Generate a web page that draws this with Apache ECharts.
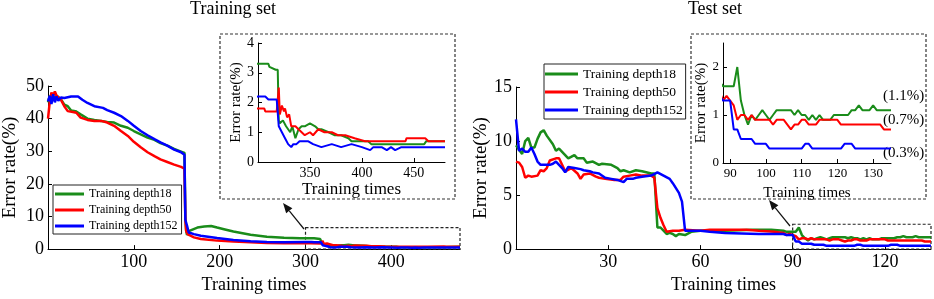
<!DOCTYPE html>
<html>
<head>
<meta charset="utf-8">
<script src="https://cdn.jsdelivr.net/npm/echarts@6/dist/echarts.min.js"></script>
<style>
html, body { margin: 0; padding: 0; background: #fff; }
#chart { width: 934px; height: 299px; }
</style>
</head>
<body>
<div id="chart"></div>
<script>
// series names / colours
var names = ['Training depth18', 'Training depth50', 'Training depth152']
var colors = ['#1a8c1a', '#ff0000', '#0000ff']

// ---- Training set: [training times, error rate %] ----
var train18 = [[0, 45], [2, 47], [4, 45.5], [6, 46.8], [8, 45.8], [10, 47], [12, 46.5], [15, 46], [19, 44.3], [23, 43.8],
  [27, 42.5], [32, 42.3], [38, 41.3], [46, 40], [54, 39.6], [62, 39.3], [69, 39], [77, 38.8], [85, 37.8], [93, 37.2],
  [100, 36.2], [108, 35.2], [116, 34.2], [124, 33.5], [131, 32.5], [139, 31.7], [147, 30.7], [155, 29.9], [159, 29.5],
  [160, 10], [161, 5.5], [162, 4.3], [164, 5.5], [166, 6.1], [174, 6.6], [182, 6.9], [190, 7.1], [197, 6.6], [205, 6.1],
  [216, 5.4], [236, 4.4], [255, 3.8], [275, 3.5], [294, 3.3],
  [300, 3.3], [310, 3.3], [311, 3.2], [317, 3.1], [319, 3.1], [320, 1.4], [321, 1.3], [324, 1.4], [327, 1.2], [331, 1.0],
  [333, 1.2], [336, 0.8], [339, 1.1], [342, 1.2], [345, 1.2], [350, 1.3], [355, 1.2], [358, 1.1], [361, 1.1], [368, 1.0],
  [374, 0.9], [380, 0.9], [387, 0.8], [390, 0.7], [406, 0.7], [409, 0.6], [460, 0.6], [462, 0.7], [480, 0.7]]

var train50 = [[0, 40], [2, 45], [4, 48], [6, 47], [8, 48.3], [10, 47], [12, 47.5], [15, 45.8], [19, 43.8], [23, 42.3],
  [29, 42], [33, 41.8], [38, 40.3], [46, 39.6], [54, 39.3], [62, 39.3], [69, 38.8], [77, 37.8], [85, 36.2], [93, 34.7],
  [100, 32.9], [108, 31.2], [116, 29.7], [124, 28.5], [131, 27.5], [139, 26.7], [147, 25.9], [155, 25.2], [159, 24.7],
  [160, 9], [161, 5.5], [163, 4.5], [166, 4.1], [170, 3.6], [178, 3.1], [197, 2.6], [216, 2.3], [236, 2.1], [255, 1.9],
  [275, 1.8],
  [300, 1.8], [306, 1.8], [307, 1.7], [318, 1.7], [320, 2.5], [321, 1.6], [323, 1.9], [325, 1.7], [326, 1.8], [328, 1.5],
  [330, 1.6], [332, 1.2], [336, 1.2], [339, 1.1], [342, 1.0], [345, 0.9], [350, 1.0], [353, 0.9], [358, 1.1], [364, 1.0],
  [371, 1.0], [377, 0.9], [384, 0.9], [393, 0.8], [403, 0.7], [442, 0.7], [443, 0.8], [461, 0.8], [464, 0.7], [465, 0.75],
  [467, 0.7], [480, 0.7]]

var train152 = [[0, 45.3], [2, 47], [4, 44.5], [6, 47.5], [8, 45], [10, 46.8], [12, 45.5], [15, 46.5], [19, 46.3], [27, 46.8],
  [35, 46.8], [40, 45.8], [46, 44.8], [54, 43.8], [64, 43.3], [69, 42.6], [77, 41.8], [85, 40.8], [93, 39.3], [100, 37.8],
  [108, 36.2], [116, 34.9], [124, 33.7], [131, 32.7], [139, 31.7], [147, 30.5], [155, 29.7], [159, 28.9],
  [160, 9], [162, 7.1], [164, 5.1], [170, 4.6], [178, 4.1], [197, 3.4], [216, 2.8], [236, 2.4], [255, 2.2], [275, 2.1],
  [300, 2.2], [307, 2.2], [310, 2.1], [318, 2.1], [320, 1.2], [323, 1.0], [326, 0.8], [329, 0.6], [332, 0.5], [334, 0.6],
  [337, 0.6], [340, 0.7], [344, 0.7], [348, 0.7], [353, 0.6], [361, 0.5], [371, 0.6], [380, 0.5], [390, 0.6], [400, 0.5],
  [408, 0.4], [411, 0.5], [419, 0.5], [424, 0.4], [428, 0.5], [432, 0.4], [438, 0.5], [480, 0.5]]

// ---- Test set, epochs 0..87: [training times, error rate %] ----
var test18Head = [[0, 9.6], [1, 9.2], [2, 8.8], [3, 10.0], [4, 10.3], [5, 9.4], [6, 9.4], [7, 10.2], [8, 10.8], [9, 11.0],
  [10, 10.5], [12, 9.7], [13, 9.1], [14, 9.3], [16, 8.7], [17, 8.4], [19, 8.7], [20, 8.4], [22, 8.4], [23, 8.0], [25, 8.1],
  [27, 7.8], [28, 7.9], [31, 7.8], [33, 7.5], [34, 7.2], [35, 7.3], [37, 7.1], [39, 7.3], [41, 7.2], [44, 7.0], [45, 7.0],
  [46, 2.0], [47, 2.0], [48, 1.7], [49, 1.4], [50, 1.5], [51, 1.4], [52, 1.2], [53, 1.4], [55, 1.3], [57, 1.6], [60, 1.7],
  [68, 1.7], [77, 1.8], [83, 1.8], [87, 1.7]]
var test50Head = [[0, 8.1], [1, 8.0], [2, 7.6], [3, 6.6], [4, 6.8], [5, 6.7], [7, 6.8], [8, 7.3], [9, 7.2], [10, 7.5],
  [11, 8.2], [13, 8.4], [14, 8.4], [15, 7.8], [16, 7.2], [18, 7.5], [20, 7.0], [21, 6.5], [22, 6.9], [24, 7.0], [26, 6.7],
  [27, 6.6], [29, 6.5], [32, 6.4], [34, 6.4], [35, 6.7], [37, 6.8], [39, 6.9], [41, 6.8], [44, 6.8], [45, 6.6],
  [46, 3.8], [47, 2.9], [48, 2.2], [49, 1.6], [51, 1.7], [53, 1.7], [55, 1.8], [60, 1.7], [63, 1.8], [68, 1.8], [75, 1.8],
  [79, 1.7], [84, 1.6], [87, 1.5]]
var test152Head = [[0, 12.0], [1, 9.1], [2, 9.3], [3, 9.0], [4, 9.0], [5, 9.4], [6, 8.8], [7, 8.1], [8, 7.8], [11, 7.8],
  [12, 7.9], [13, 8.1], [15, 7.5], [16, 7.1], [17, 7.6], [19, 7.5], [21, 7.4], [22, 7.3], [24, 7.2], [25, 7.1], [27, 7.0],
  [29, 6.6], [31, 6.5], [33, 6.4], [35, 6.2], [36, 6.5], [38, 6.5], [39, 6.6], [41, 6.7], [44, 6.8], [46, 7.1], [48, 6.8],
  [50, 6.5], [51, 6.1], [53, 5.2], [54, 4.4], [55, 1.7], [57, 1.7], [60, 1.7], [63, 1.6], [68, 1.5], [79, 1.4], [87, 1.4]]

// ---- Test set, one value per epoch from 88 to 135 ----
var tailStart = 88
var test18Tail = [1.6, 1.6, 1.6, 1.6, 2.0, 1.3, 1.0, 0.8, 1.0, 0.9, 1.0, 1.1, 1.0, 0.9, 1.0, 1.1, 1.1, 1.1, 1.1, 1.1,
  1.0, 1.1, 1.0, 1.0, 0.9, 1.0, 0.9, 1.0, 0.9, 0.9, 0.9, 1.0, 1.0, 1.0, 1.0, 1.0, 1.1, 1.1, 1.2, 1.1, 1.1, 1.1, 1.2, 1.1,
  1.1, 1.1, 1.1, 1.1]
var test50Tail = [1.3, 1.4, 1.3, 1.2, 0.9, 1.0, 1.0, 0.9, 1.0, 0.9, 0.9, 0.9, 0.9, 0.9, 0.8, 0.9, 0.9, 0.9, 0.8, 0.7,
  0.8, 0.8, 0.9, 0.9, 0.8, 0.8, 0.8, 0.9, 0.9, 0.9, 0.9, 0.9, 0.9, 0.8, 0.8, 0.8, 0.8, 0.8, 0.8, 0.8, 0.8, 0.8, 0.8, 0.8,
  0.8, 0.7, 0.7, 0.7]
var test152Tail = [1.3, 1.3, 1.3, 0.7, 0.7, 0.5, 0.5, 0.5, 0.5, 0.4, 0.4, 0.4, 0.4, 0.3, 0.3, 0.3, 0.3, 0.3, 0.3, 0.3,
  0.3, 0.3, 0.3, 0.4, 0.4, 0.3, 0.3, 0.3, 0.3, 0.3, 0.3, 0.3, 0.3, 0.3, 0.4, 0.4, 0.4, 0.3, 0.3, 0.3, 0.3, 0.3, 0.3, 0.3,
  0.3, 0.3, 0.3, 0.3]
var finalLabels = ['(1.1%)', '(0.7%)', '(0.3%)']

function withTail(head, tail) {
  return head.concat(tail.map(function(v, k) { return [tailStart + k, v] }))
}
var trainData = [train18, train50, train152]
var testData = [withTail(test18Head, test18Tail), withTail(test50Head, test50Tail), withTail(test152Head, test152Tail)]

var font = 'Liberation Serif'
var black = '#000'

function xAxisCfg(grid, min, max, ticks, size, name, nameSize, nameGap) {
  return {
    type: 'value', gridIndex: grid, min: min, max: max,
    axisLine: { lineStyle: { color: black, width: 1 }},
    axisTick: { show: true, inside: true, length: 4, customValues: ticks, lineStyle: { color: black }},
    axisLabel: { customValues: ticks, color: black, fontFamily: font, fontSize: size, margin: 4 },
    splitLine: { show: false },
    name: name, nameLocation: 'middle', nameGap: nameGap,
    nameTextStyle: { color: black, fontFamily: font, fontSize: nameSize }
  }
}
function yAxisCfg(grid, min, max, ticks, size, name, nameSize, nameGap) {
  return {
    type: 'value', gridIndex: grid, min: min, max: max,
    axisLine: { show: true, lineStyle: { color: black, width: 1 }},
    axisTick: { show: true, inside: true, length: 4, customValues: ticks, lineStyle: { color: black }},
    axisLabel: { customValues: ticks, color: black, fontFamily: font, fontSize: size, margin: 4 },
    splitLine: { show: false },
    name: name, nameLocation: 'middle', nameGap: nameGap,
    nameTextStyle: { color: black, fontFamily: font, fontSize: nameSize }
  }
}

function line(i, data, axis, width) {
  return {
    type: 'line', name: names[i], xAxisIndex: axis, yAxisIndex: axis, data: data,
    symbol: 'none', showSymbol: false, clip: true, silent: true, z: 2 + i,
    lineStyle: { color: colors[i], width: width }, itemStyle: { color: colors[i] }
  }
}

var series = []
for (var i = 0; i < 3; i++) {
  series.push(line(i, trainData[i], 0, 2.5))
  series.push(line(i, trainData[i], 1, 2))
  series.push(line(i, testData[i], 2, 2.5))
  series.push(line(i, testData[i], 3, 2))
}
var boxStyle = { color: 'rgba(0,0,0,0)', borderColor: '#222', borderWidth: 1.2, borderType: [3, 2] }
// zoomed regions marked on the main plots
series[0].markArea = { silent: true, label: { show: false }, itemStyle: boxStyle,
  data: [[{ coord: [300, 6.6] }, { coord: [480, 0] }]] }
series[2].markArea = { silent: true, label: { show: false }, itemStyle: boxStyle,
  data: [[{ coord: [90, 2.3] }, { coord: [135, 0] }]] }

function arrow(x1, y1, x2, y2) {
  var dx = x2 - x1
  var dy = y2 - y1
  var l = Math.sqrt(dx * dx + dy * dy)
  var ux = dx / l
  var uy = dy / l
  var bx = x2 - ux * 10
  var by = y2 - uy * 10
  return [
    { type: 'line', shape: { x1: x1, y1: y1, x2: bx, y2: by }, style: { stroke: '#111', lineWidth: 1.2 }},
    { type: 'polygon', shape: { points: [[x2, y2], [bx + uy * 4, by - ux * 4], [bx - uy * 4, by + ux * 4]] }, style: { fill: '#111' }}
  ]
}

var dashed = { fill: 'none', stroke: '#333', lineWidth: 1.2, lineDash: [3, 2] }
var graphics = [
  { type: 'rect', shape: { x: 220, y: 34, width: 235, height: 165 }, style: dashed },
  { type: 'rect', shape: { x: 691, y: 34, width: 235, height: 165 }, style: dashed }
].concat(arrow(304, 229, 283, 203), arrow(790, 226, 769, 200))
var labelY = [96, 120, 153]
for (var k = 0; k < 3; k++) {
  graphics.push({ type: 'text', x: 883, y: labelY[k], style: { text: finalLabels[k], fill: black, font: '15px "' + font + '"', verticalAlign: 'middle' }})
}

function legendData() {
  return names.map(function(n, k) { return { name: n, icon: 'rect', itemStyle: { color: colors[k] }} })
}

var chart = echarts.init(document.getElementById('chart'), null, { renderer: 'canvas' })
chart.setOption({
  animation: false,
  backgroundColor: '#fff',
  title: [
    { text: 'Training set', left: 233, top: 0, textAlign: 'center', padding: 0,
      textStyle: { fontFamily: font, fontSize: 18, fontWeight: 'normal', color: black }},
    { text: 'Test set', left: 715, top: 0, textAlign: 'center', padding: 0,
      textStyle: { fontFamily: font, fontSize: 18, fontWeight: 'normal', color: black }}
  ],
  legend: [
    { data: legendData(), orient: 'vertical', left: 53, top: 185, padding: [3, 4, 2, 2], itemGap: 4,
      itemWidth: 29, itemHeight: 3, borderColor: '#222', borderWidth: 1, backgroundColor: '#fff',
      selectedMode: false,
      textStyle: { fontFamily: font, fontSize: 12, lineHeight: 12, color: black }},
    { data: legendData(), orient: 'vertical', left: 544, top: 64, padding: [3, 3, 2, 1], itemGap: 4,
      itemWidth: 33, itemHeight: 3, borderColor: '#222', borderWidth: 1, backgroundColor: '#fff',
      selectedMode: false,
      textStyle: { fontFamily: font, fontSize: 13.5, lineHeight: 13.5, color: black }}
  ],
  grid: [
    { left: 47, top: 86, width: 413, height: 166 },
    { left: 258, top: 43, width: 187, height: 119 },
    { left: 516, top: 87, width: 415, height: 165 },
    { left: 723, top: 43, width: 168, height: 120 }
  ],
  xAxis: [
    xAxisCfg(0, 0, 480, [100, 200, 300, 400], 18, 'Training times', 18, 26),
    xAxisCfg(1, 300, 480, [350, 400, 450], 14, 'Training times', 17, 16),
    xAxisCfg(2, 0, 135, [30, 60, 90, 120], 18, 'Training times', 18, 26),
    xAxisCfg(3, 88, 135, [90, 100, 110, 120, 130], 13, 'Training times', 15, 23)
  ],
  yAxis: [
    yAxisCfg(0, 0, 50, [0, 10, 20, 30, 40, 50], 18, 'Error rate(%)', 19, 28),
    yAxisCfg(1, 0, 4, [0, 1, 2, 3, 4], 14, 'Error rate(%)', 15, 13),
    yAxisCfg(2, 0, 15, [0, 5, 10, 15], 18, 'Error rate(%)', 19, 20),
    yAxisCfg(3, 0, 2.5, [0, 1, 2], 13, 'Error rate(%)', 15, 14)
  ],
  series: series,
  graphic: graphics
})
</script>
</body>
</html>
